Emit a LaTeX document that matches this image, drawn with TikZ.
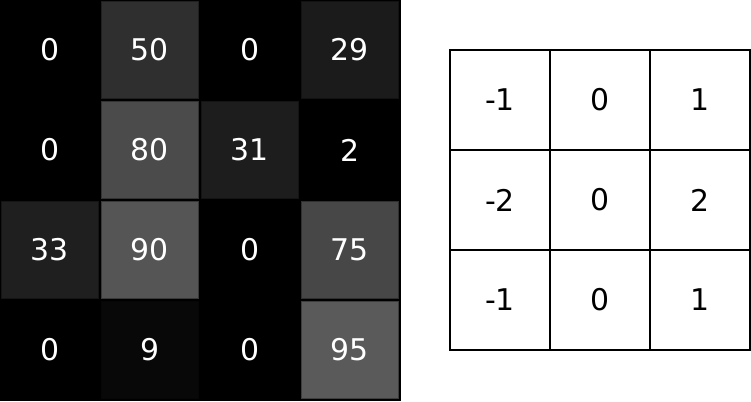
\documentclass[tikz,border=0pt]{standalone}
\usepackage{fontspec}
\setmainfont{DejaVu Sans}
\begin{document}
\begin{tikzpicture}[x=1bp,y=-1bp,
  numtxt/.style={font=\fontsize{30}{34}\selectfont},
  darkcell/.style={minimum size=97bp,inner sep=0pt,line width=0.8bp,text=white,numtxt},
  kcell/.style={minimum size=100bp,inner sep=0pt,draw=black,line width=2.4bp,fill=white,text=black,numtxt}]
\useasboundingbox (0,0) rectangle (751,401);
\fill[black] (0,0) rectangle (401,401);
\foreach \v [count=\i from 0] in {0,50,0,29,0,80,31,2,33,90,0,75,0,9,0,95}{
  \pgfmathtruncatemacro{\c}{mod(\i,4)}
  \pgfmathtruncatemacro{\r}{div(\i,4)}
  \pgfmathsetmacro{\g}{100-0.37*\v}
  \pgfmathsetmacro{\h}{100-0.25*\v}
  \ifnum\v<5
    \node[darkcell,fill=black] (m\r\c) at ({50+100*\c},{50+100*\r}) {\v};
  \else
    \node[darkcell,fill=black!\g,draw=black!\h] (m\r\c) at ({50+100*\c},{50+100*\r}) {\v};
  \fi
}
\foreach \v [count=\i from 0] in {-1,0,1,-2,0,2,-1,0,1}{
  \pgfmathtruncatemacro{\c}{mod(\i,3)}
  \pgfmathtruncatemacro{\r}{div(\i,3)}
  \node[kcell] (k\r\c) at ({500+100*\c},{100+100*\r}) {\v};
}
\end{tikzpicture}
\end{document}
